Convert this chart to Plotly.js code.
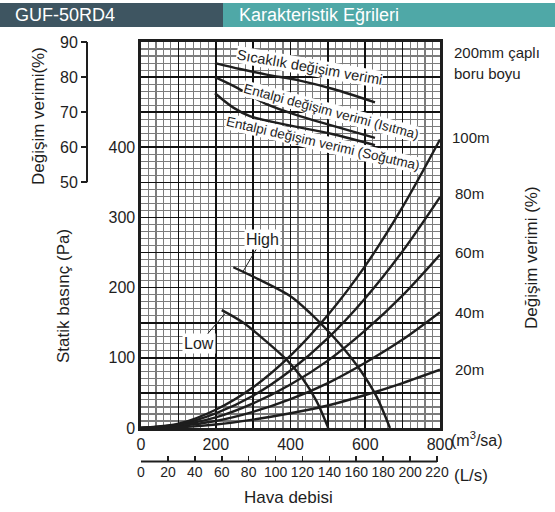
<!DOCTYPE html>
<html>
<head>
<meta charset="utf-8">
<script src="https://cdn.plot.ly/plotly-3.0.1.min.js"></script>
<style>html,body{margin:0;padding:0;background:#fff;}#chart{width:555px;height:512px;}</style>
</head>
<body>
<div id="chart"></div>
<script>
// ---- data ----
const flow = [0, 100, 200, 300, 400, 500, 600, 700, 800];          // m3/h
const pipe100 = [0, 6, 26, 58, 103, 161, 231, 315, 411];            // Pa
const pipe80  = [0, 5, 21, 46, 82, 128, 185, 252, 329];
const pipe60  = [0, 4, 15, 35, 62, 96, 139, 189, 247];
const pipe40  = [0, 3, 10, 23, 41, 64, 93, 126, 165];
const pipe20  = [0, 1, 5, 12, 21, 32, 47, 64, 83];

const highFlow = [247, 318, 399, 452, 497, 541, 586, 630, 666];
const highPa   = [229, 211, 188, 164, 140, 114, 83, 45, 0];
const lowFlow  = [216, 274, 336, 390, 434, 470, 501];
const lowPa    = [168, 150, 123, 97, 69, 38, 0];

const sicaklikFlow = [198, 265, 336, 425, 514, 626];
const sicaklikEff  = [84.0, 82.3, 80.7, 79.0, 76.6, 72.8];
const isitmaFlow   = [198, 247, 336, 425, 514, 626];
const isitmaEff    = [80.0, 77.5, 72.3, 68.9, 66.1, 62.7];
const sogutmaFlow  = [198, 247, 291, 380, 514, 626];
const sogutmaEff   = [75.4, 71.3, 68.9, 66.6, 63.7, 60.6];

const xTickVals = [0, 100, 200, 300, 400, 500, 600, 700, 800];
const xTickText = ['0', '', '200', '', '400', '', '600', '', '800'];
const yTickVals = [0, 50, 100, 150, 200, 250, 300, 350, 400, 450, 500, 550];
const yTickText = ['0', '', '100', '', '200', '', '300', '', '400', '', '', ''];
const yMarkVals = [0, 100, 200, 300, 400];
const effTicks = [50, 60, 70, 80, 90];
const lsTicks = [0, 20, 40, 60, 80, 100, 120, 140, 160, 180, 200, 220];

// ---- drawing ----
const W = 555, H = 512;
const px = v => v / W;
const py = v => 1 - v / H;
const FONT = 'Liberation Sans, Arial, Helvetica, sans-serif';
const INK = '#1e1e1e';
const GRAY = '#7c7c7c';

function line(x, y, yaxis) {
  return {x: x, y: y, type: 'scatter', mode: 'lines', xaxis: 'x4', yaxis: yaxis || 'y4',
          line: {color: INK, width: 2.4, shape: 'spline', smoothing: 0.9},
          hoverinfo: 'skip', showlegend: false};
}

const traces = [
  // empty holder so the fine-grid subplot is laid out with both grids
  {x: [], y: [], type: 'scatter', mode: 'lines', xaxis: 'x', yaxis: 'y', hoverinfo: 'skip', showlegend: false},
  line(flow, pipe100), line(flow, pipe80), line(flow, pipe60), line(flow, pipe40), line(flow, pipe20),
  line(highFlow, highPa), line(lowFlow, lowPa),
  line(sicaklikFlow, sicaklikEff, 'y2'),
  line(isitmaFlow, isitmaEff, 'y2'),
  line(sogutmaFlow, sogutmaEff, 'y2')
];

function ann(text, x, y, opts) {
  return Object.assign({text: text, xref: 'paper', yref: 'paper', x: px(x), y: py(y),
    showarrow: false, xanchor: 'center', yanchor: 'middle',
    font: {family: FONT, size: 15, color: INK}}, opts || {});
}

const annotations = [
  ann('GUF-50RD4', 13, 15, {xanchor: 'left', font: {family: FONT, size: 18, color: '#ffffff'}}),
  ann('Karakteristik Eğrileri', 237, 15, {xanchor: 'left', font: {family: FONT, size: 18, color: '#ffffff'}}),
  ann('Değişim verimi(%)', 38, 116, {textangle: -90, font: {family: FONT, size: 17, color: INK}}),
  ann('Statik basınç (Pa)', 63, 296, {textangle: -90, font: {family: FONT, size: 17, color: INK}}),
  ann('Değişim verimi (%)', 531, 258, {textangle: -90, font: {family: FONT, size: 17, color: INK}}),
  ann('200mm çaplı', 452, 52, {xanchor: 'left'}),
  ann('boru boyu', 452, 73, {xanchor: 'left'}),
  ann('100m', 450, 137, {xanchor: 'left'}),
  ann('80m', 453, 193, {xanchor: 'left'}),
  ann('60m', 453, 252, {xanchor: 'left'}),
  ann('40m', 453, 312, {xanchor: 'left'}),
  ann('20m', 453, 369, {xanchor: 'left'}),
  ann('(m<sup>3</sup>/sa)', 449, 439, {xanchor: 'left', font: {family: FONT, size: 16, color: INK}}),
  ann('(L/s)', 452, 475, {xanchor: 'left', font: {family: FONT, size: 17, color: INK}}),
  ann('Hava debisi', 288, 497, {font: {family: FONT, size: 17, color: INK}}),
  ann('Sıcaklık değişim verimi', 309, 67, {textangle: 10, bgcolor: '#ffffff', borderpad: 0, font: {family: FONT, size: 14.5, color: INK}}),
  ann('Entalpi değişim verimi (Isıtma)', 331, 111, {textangle: 15, bgcolor: '#ffffff', borderpad: 0, font: {family: FONT, size: 13.5, color: INK}}),
  ann('Entalpi değişim verimi (Soğutma)', 323, 143, {textangle: 13, bgcolor: '#ffffff', borderpad: 0, font: {family: FONT, size: 13.5, color: INK}}),
  {text: 'High', xref: 'x4', yref: 'y4', x: 273, y: 223, showarrow: true, arrowhead: 0, arrowwidth: 1,
   arrowcolor: INK, ax: 19, ay: -32, bgcolor: '#ffffff', borderpad: 1,
   font: {family: FONT, size: 16, color: INK}},
  {text: 'Low', xref: 'x4', yref: 'y4', x: 225, y: 163, showarrow: true, arrowhead: 0, arrowwidth: 1,
   arrowcolor: INK, ax: -26, ay: 30, bgcolor: '#ffffff', borderpad: 1,
   font: {family: FONT, size: 16, color: INK}}
];

const shapes = [
  {type: 'rect', xref: 'paper', yref: 'paper', x0: 0, x1: px(223), y0: py(27), y1: py(3),
   fillcolor: '#3e5561', line: {width: 0}, layer: 'below'},
  {type: 'rect', xref: 'paper', yref: 'paper', x0: px(223), x1: 1, y0: py(27), y1: py(3),
   fillcolor: '#4fa8a7', line: {width: 0}, layer: 'below'},
  {type: 'line', xref: 'paper', yref: 'y2', x0: px(87), x1: px(87), y0: 50, y1: 90,
   line: {color: INK, width: 2}},
  {type: 'line', xref: 'x2', yref: 'paper', x0: 0, x1: 220, y0: py(461.5), y1: py(461.5),
   line: {color: INK, width: 1.8}}
];

const XDOM = [px(141), px(440)];
const YDOM = [py(428), py(42)];
const layout = {
  width: W, height: H,
  margin: {l: 0, r: 0, t: 0, b: 0},
  paper_bgcolor: '#ffffff', plot_bgcolor: 'rgba(0,0,0,0)',
  font: {family: FONT, color: INK},
  showlegend: false,
  // fine grid (background subplot)
  xaxis: {
    domain: XDOM, range: [0, 800], anchor: 'y', autorange: false,
    tickmode: 'linear', tick0: 0, dtick: 20, showticklabels: false, ticks: '',
    showgrid: true, gridcolor: GRAY, gridwidth: 1.1, zeroline: false, showline: false
  },
  yaxis: {
    domain: YDOM, range: [0, 550], anchor: 'x', autorange: false,
    tickmode: 'linear', tick0: 0, dtick: 10, showticklabels: false, ticks: '',
    showgrid: true, gridcolor: GRAY, gridwidth: 1.1, zeroline: false, showline: false
  },
  // bold grid, labels and curves
  xaxis4: {
    domain: XDOM, range: [0, 800], anchor: 'y4',
    tickmode: 'array', tickvals: xTickVals, ticktext: xTickText, tickangle: 0,
    ticks: '', tickfont: {size: 16, color: INK},
    showgrid: true, gridcolor: '#111111', gridwidth: 1.6, zeroline: false,
    showline: true, linecolor: INK, linewidth: 2.6, mirror: true
  },
  yaxis4: {
    domain: YDOM, range: [0, 550], anchor: 'x4',
    tickmode: 'array', tickvals: yTickVals, ticktext: yTickText,
    ticks: '', tickfont: {size: 16, color: INK},
    showgrid: true, gridcolor: '#111111', gridwidth: 1.6, zeroline: false,
    showline: true, linecolor: INK, linewidth: 2.6, mirror: true
  },
  yaxis3: {
    overlaying: 'y4', anchor: 'x4', side: 'left', range: [0, 550],
    tickmode: 'array', tickvals: yMarkVals, ticks: 'outside', ticklen: 5, tickwidth: 1.6, tickcolor: INK,
    showticklabels: false, showgrid: false, zeroline: false, showline: false
  },
  yaxis2: {
    overlaying: 'y4', anchor: 'free', position: px(87), side: 'left', range: [-20, 90],
    tickmode: 'array', tickvals: effTicks, ticks: 'outside', ticklen: 6, tickwidth: 2, tickcolor: INK,
    tickfont: {size: 16, color: INK}, showgrid: false, zeroline: false, showline: false
  },
  xaxis2: {
    overlaying: 'x4', anchor: 'free', position: py(461.5), side: 'bottom', range: [0, 800 / 3.6],
    tickmode: 'array', tickvals: lsTicks, tickangle: 0, ticks: 'inside', ticklen: 6,
    tickwidth: 1.6, tickcolor: INK, tickfont: {size: 14, color: INK},
    showgrid: false, zeroline: false, showline: false
  },
  shapes: shapes,
  annotations: annotations
};

Plotly.newPlot('chart', traces, layout, {staticPlot: true, displayModeBar: false});
</script>
</body>
</html>
